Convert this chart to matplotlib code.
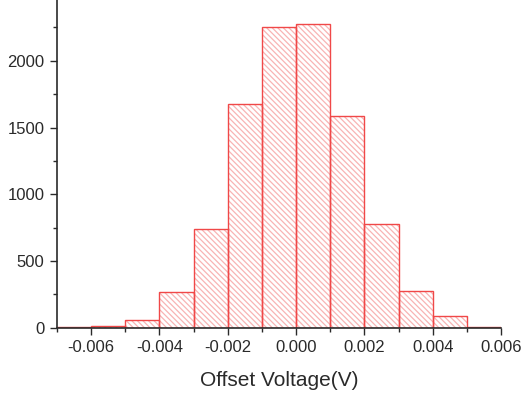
import matplotlib.pyplot as plt
import numpy as np
from matplotlib.ticker import MultipleLocator

plt.rcParams['font.family'] = ['Liberation Sans', 'DejaVu Sans']
plt.rcParams['hatch.linewidth'] = 0.9

# histogram bins of offset voltage (V), width 0.001
bin_left = [-0.007, -0.006, -0.005, -0.004, -0.003, -0.002, -0.001,
            0.000, 0.001, 0.002, 0.003, 0.004, 0.005]
counts = [3, 15, 60, 265, 740, 1680, 2255, 2278, 1590, 780, 277, 88, 8]
bin_width = 0.001

RED = '#f04848'
HATCH_RED = '#f8b4b4'
TEXT = '#2a2a2a'

fig = plt.figure(figsize=(5.23, 3.96), dpi=100)
ax = fig.add_axes([0.109, 0.172, 0.849, 0.828])

ax.bar(bin_left, counts, width=bin_width, align='edge', facecolor='white',
       edgecolor=HATCH_RED, hatch='\\\\\\\\\\\\', linewidth=0)
ax.bar(bin_left, counts, width=bin_width, align='edge', fill=False,
       edgecolor=RED, linewidth=1.0)

ax.set_xlim(-0.007, 0.006)
ax.set_ylim(0, 2455)
ax.xaxis.set_major_locator(MultipleLocator(0.002))
ax.xaxis.set_minor_locator(MultipleLocator(0.001))
ax.yaxis.set_major_locator(MultipleLocator(500))
ax.yaxis.set_minor_locator(MultipleLocator(250))
ax.set_xticklabels([f'{v:.3f}' for v in ax.get_xticks()])

ax.spines['top'].set_visible(False)
ax.spines['right'].set_visible(False)
for s in ('left', 'bottom'):
    ax.spines[s].set_linewidth(1.2)
    ax.spines[s].set_color(TEXT)

ax.tick_params(which='major', length=5, width=1.0, labelsize=12,
               colors=TEXT, direction='out', pad=4)
ax.tick_params(which='minor', length=3, width=1.0, colors=TEXT,
               direction='out')

ax.set_xlabel('Offset Voltage(V)', fontsize=15, labelpad=11, color=TEXT)

fig.savefig('out.png', dpi=100)
